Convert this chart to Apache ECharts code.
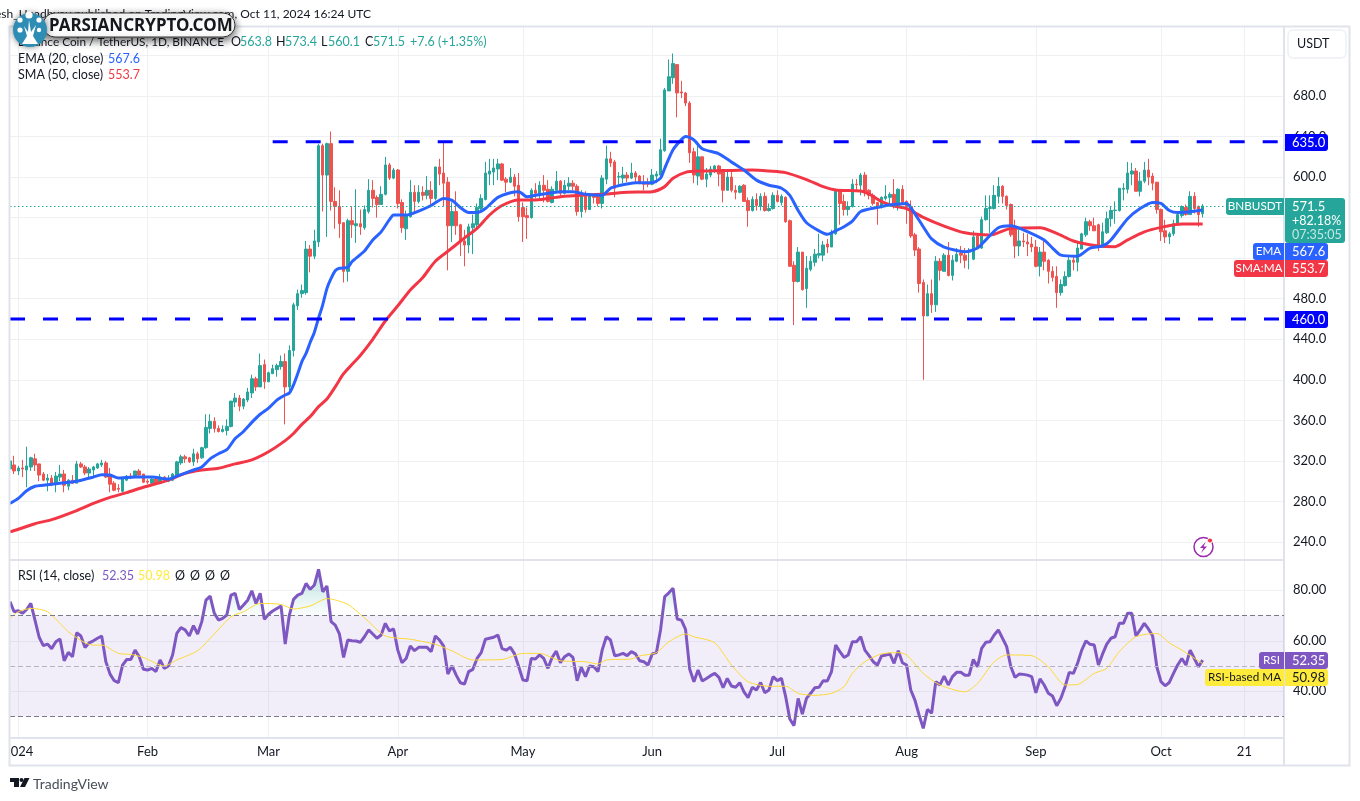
<!DOCTYPE html>
<html lang="en" style="height: 100%">

<head>
  <meta charset="utf-8">
  <script src="https://cdn.jsdelivr.net/npm/echarts@6/dist/echarts.min.js"></script>
</head>

<body style="height: 100%; margin: 0; background: #fff">
  <div id="container" style="width: 1360px; height: 801px;"></div>

  <script type="text/javascript">
    //day numbers count from 1 Jan 2024, first candle is 30 Dec
    const firstDay = -2;

    const opens = [
      312, 316, 310, 313, 311, 314, 322, 317, 307, 301,
      303, 297, 304, 307, 295, 301, 298, 317, 314, 308,
      311, 313, 316, 318, 305, 298, 293, 290, 301, 305,
      304, 310, 307, 300, 298, 302, 298, 304, 300, 301,
      305, 318, 324, 323, 319, 327, 323, 333, 352, 359,
      352, 349, 350, 354, 378, 382, 374, 380, 387, 401,
      393, 415, 398, 406, 410, 413, 418, 393, 429, 473,
      485, 486, 529, 522, 536, 631, 602, 633, 576, 571,
      555, 507, 557, 552, 554, 550, 566, 587, 580, 573,
      583, 612, 599, 607, 575, 549, 561, 585, 576, 585,
      582, 587, 579, 610, 604, 595, 552, 566, 553, 537,
      533, 550, 553, 569, 578, 603, 605, 608, 613, 598,
      595, 600, 592, 570, 562, 560, 587, 584, 592, 588,
      575, 587, 596, 584, 591, 594, 591, 566, 581, 568,
      582, 582, 574, 598, 618, 615, 600, 599, 602, 599,
      604, 601, 594, 594, 593, 601, 602, 626, 685, 698,
      711, 684, 683, 673, 625, 601, 620, 598, 602, 607,
      611, 605, 587, 600, 587, 585, 592, 577, 567, 578,
      571, 581, 567, 569, 582, 575, 580, 557, 513, 497,
      526, 490, 509, 516, 523, 523, 534, 531, 544, 586,
      576, 568, 571, 593, 592, 602, 587, 582, 575, 570,
      579, 580, 583, 572, 588, 576, 571, 543, 529, 496,
      463, 485, 474, 517, 507, 523, 503, 517, 525, 523,
      526, 519, 542, 530, 558, 569, 569, 581, 591, 581,
      573, 548, 532, 537, 536, 534, 531, 512, 526, 518,
      507, 502, 486, 493, 502, 518, 516, 529, 543, 556,
      552, 553, 532, 545, 559, 567, 567, 588, 588, 603,
      606, 586, 596, 607, 601, 595, 568, 547, 541, 544,
      554, 562, 570, 563, 581, 571, 563.8
    ];
    const closes = [
      320, 310, 313, 312, 315, 323, 316, 306, 301, 303,
      297, 305, 307, 296, 301, 298, 317, 314, 308, 312,
      314, 317, 318, 304, 297, 291, 292, 302, 305, 304,
      310, 306, 299, 299, 302, 298, 304, 302, 302, 307,
      319, 324, 322, 319, 327, 322, 333, 353, 359, 352,
      349, 351, 354, 379, 382, 374, 381, 388, 401, 393,
      414, 398, 407, 411, 414, 418, 393, 429, 474, 485,
      488, 529, 522, 537, 631, 602, 633, 576, 571, 554,
      507, 557, 553, 554, 551, 568, 587, 579, 573, 583,
      612, 599, 607, 574, 550, 563, 585, 576, 585, 582,
      587, 579, 610, 603, 594, 552, 566, 552, 536, 533,
      551, 554, 570, 579, 604, 606, 609, 613, 597, 595,
      600, 591, 561, 561, 560, 587, 584, 592, 587, 576,
      588, 596, 584, 592, 594, 591, 566, 581, 568, 583,
      580, 574, 599, 618, 614, 589, 600.5, 602, 599, 604,
      600, 594, 593, 593, 602, 603, 627, 686, 699, 712,
      683, 683, 673, 624, 602, 620, 598, 603, 608, 611,
      603, 587, 600, 587, 585, 591, 576, 567, 578, 572,
      581, 567, 569, 582, 576, 581, 556, 512, 497, 526,
      489, 510, 517, 524, 524.5, 533, 531, 545, 586, 574,
      568, 571, 593, 592.5, 602, 586, 582, 574, 570, 580,
      581, 583, 572, 588, 575, 571, 542, 528, 495, 463,
      485, 474, 517, 508, 523, 503, 518, 524, 523, 518,
      527, 541, 530, 558, 569, 570, 582, 591, 581, 572,
      543, 532, 537, 536, 534, 531, 512, 526, 517, 507,
      501, 486, 494, 502, 518, 516, 530, 544, 556, 552,
      547, 531, 546, 559, 567, 567.5, 589, 589, 604, 606,
      586, 596, 607, 600, 594, 568, 546, 541, 544, 554,
      563, 571, 563, 581, 569, 563, 571.5
    ];
    const highs = [
      322, 325, 315, 321, 334, 324, 327, 317, 309, 307,
      306, 309, 316, 311, 302, 306, 320, 319, 316, 314,
      315, 318, 321, 320, 313, 300, 297, 304, 306, 308,
      310, 312, 307, 302, 304, 304, 307, 305, 306, 308,
      320, 326, 326, 324, 332, 329, 334, 366, 366, 363,
      355, 355, 361, 379, 387, 385, 382, 392, 405, 403,
      426, 420, 408, 415, 416, 424, 426, 434, 476, 489,
      494, 537, 533, 548, 633, 633, 634, 645, 590, 587,
      555, 559, 571, 588, 568, 572, 598, 597, 582, 591,
      620, 614, 609, 608, 578, 567, 597, 592, 592, 591,
      601, 596, 610, 618, 634, 600, 575, 586, 554, 548,
      554, 563, 574, 583, 615, 618, 618, 618, 614, 600,
      609, 603, 604, 575, 570, 589, 594, 596, 602, 597,
      591, 606, 597, 597, 600, 597, 593, 587, 586, 584,
      583, 582, 602, 631, 625, 617, 605, 610, 605, 614,
      606, 602, 602, 599, 608, 606, 638, 688, 716, 722,
      711, 695, 684, 675, 629, 635, 620, 609, 611, 612,
      612, 606, 606, 607, 592, 592, 593, 580, 581, 584,
      584, 585, 574, 585, 587, 583, 581, 558, 517, 531,
      526, 522, 522, 529, 544, 537, 539, 548, 587, 587,
      583, 576, 598, 598, 604, 605, 588, 584, 575, 581,
      592, 585, 598, 589, 592, 577, 577, 545, 531, 499,
      494, 499, 522, 520, 525, 536, 523, 530, 532, 530,
      530, 547, 543, 561, 582, 582, 592, 600, 592, 582,
      574, 558, 548, 545, 544, 541, 538, 531, 538, 519,
      512, 512, 499, 507, 523, 523, 535, 545, 560, 558,
      560, 554, 555, 566, 571, 576, 589, 594, 615, 614,
      609, 605, 615, 618, 604, 595, 569, 558, 546, 558,
      564, 572, 573, 586, 585, 572, 573.4
    ];
    const lows = [
      311, 307, 306, 304, 294, 310, 310, 300, 300, 290,
      295, 289, 300, 289, 291, 298, 298, 313, 306, 304,
      305, 312, 314, 303, 289, 290, 289, 289, 300, 302,
      303, 305, 298, 297, 297, 297, 297, 300, 299, 300,
      303, 316, 318, 318, 315, 318, 322, 332, 347, 348,
      348, 348, 345, 353, 373, 369, 371, 378, 382, 389,
      393, 391, 398, 406, 403, 410, 356, 387, 423, 469,
      481, 484, 506, 519, 531, 566, 541, 567, 549, 540,
      496, 497, 540, 535, 543, 548, 564, 570, 560, 573,
      582, 597, 598, 569, 545, 538, 560, 564, 574, 577,
      578, 570, 577, 592, 571, 508, 536, 543, 522, 512,
      525, 524, 549, 567, 577, 592, 592, 597, 596, 585,
      594, 581, 556, 536, 539, 559, 579, 579, 575, 575,
      574, 586, 581, 583, 587, 587, 562, 560, 565, 568,
      574, 571, 569, 593, 610, 580, 590, 594, 595, 598,
      594, 593, 587, 590, 592, 594, 601, 625, 685, 692,
      659, 678, 670, 614, 594, 592, 597, 590, 600, 604,
      591, 575, 587, 585, 578, 584, 576, 551, 566, 567,
      567, 566, 566, 568, 575, 572, 555, 512, 454, 496,
      488, 471, 507, 512, 520, 517, 525, 531, 543, 553,
      562, 562, 570, 587, 582, 581, 578, 572, 553, 569,
      577, 574, 569, 567, 574, 554, 540, 522, 486, 400,
      463, 466, 467, 498, 507, 502, 498, 516, 515, 510,
      509, 518, 530, 529, 557, 545, 568, 574, 574, 568,
      541, 520, 522, 531, 522, 526, 511, 502, 508, 495,
      497, 471, 483, 492, 501, 508, 507, 529, 541, 547,
      547, 527, 531, 544, 551, 554, 566, 577, 584, 592,
      586, 581, 594, 592, 587, 564, 537, 535, 534, 542,
      553, 560, 562, 563, 564, 551, 560.1
    ];

    const emaDays = [-2, 0, 2, 4, 6, 10, 14, 18, 20, 22, 24, 28, 32, 36, 38, 42, 44, 46, 48, 50, 52, 54, 56, 58, 60, 62, 64, 65, 66, 67, 68, 69, 70, 71, 72, 73, 74, 75, 76, 77, 79, 80, 83, 85, 87, 89, 90, 93, 96, 99, 102, 104, 106, 108, 110, 112, 115, 118, 120, 122, 124, 128, 130, 133, 136, 140, 142, 144, 148, 152, 154, 155, 157, 159, 160, 162, 164, 168, 171, 174, 177, 180, 183, 185, 187, 189, 192, 194, 196, 198, 200, 202, 206, 209, 213, 214, 217, 219, 222, 227, 230, 232, 235, 238, 241, 246, 248, 250, 254, 257, 260, 262, 266, 269, 272, 274, 276, 278, 284];
    const emaValues = [278, 283, 290.6, 295, 296, 298, 300, 304, 306.4, 306, 303, 304, 304, 302, 305, 311, 314, 322, 327, 331, 342, 349, 358, 366, 372, 380, 385, 387, 395, 406, 418, 426, 437, 447, 461, 474, 490, 500, 507.6, 510, 511, 516.5, 527, 538, 546, 558, 562.6, 562.6, 566.5, 572, 579, 577, 570, 565, 565, 569, 580, 584.6, 585.6, 580.6, 582, 584.6, 585.6, 585.6, 583, 582, 589, 591.6, 594.5, 594.5, 599, 608.7, 627, 637, 640, 636.6, 628, 623, 615, 607, 597, 592, 589, 582, 567, 555, 547, 543.6, 547, 551, 556.5, 566, 570, 572.5, 574, 570, 551, 539, 531, 526.4, 530, 538, 550, 552, 548, 538, 530, 523, 522, 530, 532, 538, 559, 569, 575, 574, 567, 565, 567.6];
    const smaDays = [-2, 0, 4, 8, 14, 18, 22, 26, 30, 36, 40, 44, 48, 52, 56, 60, 64, 66, 68, 70, 72, 74, 76, 78, 80, 82, 85, 88, 91, 94, 97, 100, 104, 107, 110, 113, 116, 120, 124, 130, 136, 141, 146, 152, 155, 157, 160, 164, 169, 176, 180, 184, 189, 193, 196, 202, 204, 207, 210, 213, 217, 222, 227, 233, 238, 245, 249, 253, 259, 263, 266, 270, 274, 279, 284];
    const smaValues = [250, 252.5, 258, 262, 271, 278, 284, 288.7, 294, 301, 307.7, 311, 312.7, 317, 321, 329, 340, 347, 356, 363.7, 373.5, 381, 393, 406, 415, 424, 440, 458, 473, 488.6, 501, 517, 530, 540, 549.4, 562.6, 572, 577.4, 577.4, 580.7, 582.4, 583.3, 585, 585.6, 590.6, 598.8, 604.7, 606, 606.4, 607, 606, 604.4, 597.5, 590.6, 587.3, 586.3, 583.3, 575.8, 571.5, 569, 560.3, 551.7, 545, 542.9, 549.4, 550, 544.5, 537, 532, 531.4, 538, 546, 550.4, 553.7, 553.7];

    const rsiValues = [
      75.5, 71.5, 71.9, 70.9, 72.4, 74.8, 68.2, 61.4, 58.1, 58.7,
      56.9, 59.6, 60.7, 52.1, 55.4, 53.7, 63.2, 61.9, 57.3, 59.2,
      60, 61, 61.9, 51.7, 46.8, 44.2, 43.4, 50.4, 52.6, 52.6,
      56.3, 53.7, 48.7, 48.4, 49.1, 47.8, 52.4, 49.1, 50, 54.4,
      62.9, 65.2, 64.3, 61.9, 66, 62.7, 67.6, 76.1, 77.7, 70.9,
      68.2, 68.9, 70.2, 78.1, 78.8, 72.4, 74.2, 76.1, 79.8, 74.8,
      78.8, 68.5, 70.5, 71.8, 72.8, 73.8, 58.7, 70.2, 76.4, 78.1,
      78.8, 82.7, 80.4, 82.1, 88.3, 79.4, 81.7, 67.6, 66.2, 62.7,
      53.4, 60.3, 60, 59.9, 59.4, 61.6, 64.3, 62.7, 61, 62.3,
      66.9, 63.9, 64.7, 56.3, 51.3, 53, 57.9, 56.1, 57.4, 57.4,
      57.4, 55.7, 61.9, 60.3, 57.9, 46.8,
      50.1, 46.4, 43.4, 42.9, 47.8, 48.7, 53, 55.3, 60.6, 61,
      61.4, 62.3, 56.9, 56.3, 57.4, 54.8, 49.7, 44.5, 44.2, 53,
      52.8, 54.4, 53, 49.1, 53.4, 55.9, 51.3, 53.7, 54.8, 53.4,
      44.2, 49.5, 45.8, 50, 49.7, 47.8, 56.3, 61.6, 60.3, 54.1,
      54.4, 55, 54.1, 55.7, 54.8, 52.1, 51.7, 50.4, 54.8, 55.3,
      64.3, 77.5, 79, 80.8, 68.6, 68.2, 64.5, 48.7, 43.8, 48.4,
      44.1, 45.1, 46.2, 47.1, 45.5, 41.4, 45.1, 42.1, 41.6, 43.4,
      39.8, 37.5, 41.6, 40.5, 43.5, 39.4, 40.5, 45.8, 44.2, 45.1,
      37.9, 29, 26.4, 37.2, 31, 37.2, 39.2, 41.4, 41.6, 44.2,
      44.1, 47.8, 58.3, 55.7, 53.4, 54.4, 59.6, 59.6, 61.6, 56.3,
      54.1, 51.7, 50.4, 54, 54.4, 54.8, 51.1, 56.1,
      51.3, 50.4, 40.5, 36.5, 30.6, 25.3, 32.8, 31.3, 43.8, 42.5,
      46, 42.5, 45.8, 47.5, 47.5, 46.4, 46.4, 52.6, 49.7, 57,
      59.4, 59.6, 62.3, 64.3, 61, 57.7, 49.7, 45.5, 46.8, 46.7,
      46.4, 45.8, 39.4, 44.9, 42.5, 39.2, 38.1, 34.3, 37.2, 41.8,
      47.5, 47.1, 51.1, 56.3, 60, 58.6, 58.3, 50.4, 54.8, 58.7,
      61, 61.6, 66.9, 66.9, 70.9, 70.9, 61.9, 64.3, 66.9, 64.7,
      61.9, 49.7, 43.8, 42.2, 43.5, 47.1, 50.4, 53, 50.4, 56.3,
      53, 49.7, 52.35
    ];
    const rsiMaDays = [-2, 0, 3, 7, 12, 16, 18, 20, 24, 27, 30, 35, 38, 43, 47, 51, 54, 58, 63, 66, 70, 74, 79, 84, 88, 94, 100, 104, 109, 116, 121, 125, 130, 136, 139, 141, 147, 149, 153, 156, 160, 162, 167, 171, 175, 180, 184, 187, 191, 195, 198, 200, 203, 207, 211, 213, 217, 221, 227, 230, 234, 237, 243, 247, 251, 254, 258, 261, 264, 268, 273, 276, 279, 284];
    const rsiMaValues = [68.9, 71.5, 72.8, 71.5, 63.6, 59.2, 58.3, 58.3, 55, 54.6, 53.4, 50, 52.4, 56.1, 62.7, 69.5, 71.5, 74.8, 74.4, 72.6, 73.8, 76.7, 74.4, 67.6, 61.9, 60.6, 58.6, 56, 52.4, 52.6, 55, 55, 52.1, 51.7, 50.8, 52.4, 52.8, 54, 55.3, 59.6, 62.7, 61.6, 59.2, 50.4, 43.8, 42, 42, 39.2, 38.4, 39.2, 41.8, 47.1, 51.7, 54.8, 55.3, 54.4, 47.1, 42.5, 39.8, 43.1, 51.7, 54.4, 54.1, 49.7, 42.5, 42.7, 47.1, 49.1, 55.7, 61.6, 62.9, 59.2, 56.3, 50.98];

    //axis ticks
    const monthDays = [0, 31, 60, 91, 121, 152, 182, 213, 244, 274, 294];
    const monthLabels = ['2024', 'Feb', 'Mar', 'Apr', 'May', 'Jun', 'Jul', 'Aug', 'Sep', 'Oct', '21'];
    const priceGrid = [240, 280, 320, 360, 400, 440, 480, 520, 560, 600, 640, 680, 720];
    const priceLabels = [240, 280, 320, 360, 400, 440, 480, 600, 640, 680];
    const rsiTicks = [40, 60, 80];

    //horizontal levels drawn on the chart
    const resistance = 635;
    const resistanceFrom = 61;
    const support = 460;
    const lastClose = 571.5;
    const rsiBands = [70, 50, 30];

    const font = 'Lato, "Noto Sans", sans-serif';
    const textColor = '#131722';
    const gridColor = '#eff0f4';
    const frameColor = '#e0e3eb';
    const upColor = '#26a69a';
    const downColor = '#ef5350';
    const xMin = -1.99;
    const xMax = 303.5;

    const dom = document.getElementById('container');
    const myChart = echarts.init(dom, null, { renderer: 'canvas' });

    const pairs = (days, values) => days.map((d, i) => [d, values[i]]);
    const allDays = opens.map((_, i) => i + firstDay);

    function xAxis(gridIndex, withLabels) {
      return {
        type: 'value',
        gridIndex: gridIndex,
        min: xMin,
        max: xMax,
        axisLine: { show: true, onZero: false, lineStyle: { color: frameColor, width: 2 } },
        axisTick: { show: false, customValues: monthDays },
        splitLine: { show: true, lineStyle: { color: gridColor } },
        axisLabel: {
          show: withLabels,
          customValues: monthDays,
          formatter: v => monthLabels[monthDays.indexOf(v)],
          color: textColor,
          fontFamily: font,
          fontSize: 13,
          margin: 7
        }
      };
    }

    function yAxis(gridIndex, min, max, grid, labels, digits) {
      return {
        type: 'value',
        gridIndex: gridIndex,
        position: 'right',
        min: min,
        max: max,
        axisLine: { show: true, onZero: false, lineStyle: { color: frameColor, width: 2 } },
        axisTick: { show: false, customValues: grid },
        splitLine: { show: true, lineStyle: { color: gridColor } },
        axisLabel: {
          customValues: labels,
          formatter: v => v.toFixed(digits),
          color: textColor,
          fontFamily: font,
          fontSize: 13,
          padding: [2, 0, 0, 0],
          margin: 9
        }
      };
    }

    //text and badges outside the marks
    const T = (x, y, text, fill, extra) => ({
      type: 'text', z: 120, x: x, y: y,
      style: Object.assign({ text: text, fill: fill, font: '12.5px ' + font, verticalAlign: 'middle' }, extra || {})
    });
    const box = (x, y, w, h, fill, r) => ({
      type: 'rect', z: 110, shape: { x: x, y: y, width: w, height: h, r: r }, style: { fill: fill }
    });
    function badge(left, right, y0, y1, fill, name, value, nameFill, valueFill) {
      const list = [];
      if (name) {
        list.push(box(left, y0, 1284 - left, y1 - y0, fill, [3, 0, 0, 3]));
        list.push(T((left + 1284) / 2, (y0 + y1) / 2, name, nameFill || '#fff', { textAlign: 'center', font: '11.7px ' + font }));
      }
      list.push(box(1285, y0, right - 1285, y1 - y0, fill, [0, 3, 3, 0]));
      list.push(T(1292, (y0 + y1) / 2, value, valueFill || '#fff', { font: '13px ' + font }));
      return list;
    }

    const graphics = [
      //frame
      { type: 'rect', z: 105, shape: { x: 0, y: 0, width: 9, height: 801 }, style: { fill: '#fff' } },
      { type: 'rect', z: 106, shape: { x: 9.5, y: 26.5, width: 1340, height: 739 }, style: { fill: 'none', stroke: frameColor, lineWidth: 2 } },
      { type: 'line', z: 106, shape: { x1: 1284, y1: 738, x2: 1284, y2: 765 }, style: { stroke: frameColor, lineWidth: 2 } },
      //header
      T(371, 14, 'Rakesh_Upadhyay published on TradingView.com, Oct 11, 2024 16:24 UTC', textColor, { textAlign: 'right', font: '12px ' + font }),
      T(18, 42, 'Binance Coin / TetherUS, 1D, BINANCE', textColor, { font: '11.8px ' + font }),
      T(231, 42, 'O', textColor),
      T(240, 42, '563.8', upColor),
      T(276, 42, 'H', textColor),
      T(285, 42, '573.4', upColor),
      T(321, 42, 'L', textColor),
      T(328, 42, '560.1', upColor),
      T(365, 42, 'C', textColor),
      T(373, 42, '571.5', upColor),
      T(410, 42, '+7.6 (+1.35%)', upColor),
      T(18, 59, 'EMA (20, close)', textColor),
      T(108, 59, '567.6', '#2962ff'),
      T(18, 75, 'SMA (50, close)', textColor),
      T(108, 75, '553.7', '#f23645'),
      T(18, 576, 'RSI (14, close)', textColor),
      T(102, 576, '52.35', '#7e57c2'),
      T(138, 576, '50.98', '#ffeb3b'),
      T(175, 576, '\u00d8', textColor),
      T(190, 576, '\u00d8', textColor),
      T(205, 576, '\u00d8', textColor),
      T(220, 576, '\u00d8', textColor),
      //currency button
      { type: 'rect', z: 110, shape: { x: 1288, y: 30, width: 58, height: 28, r: 5 }, style: { fill: '#fff', stroke: '#eef0f5', lineWidth: 1.5 } },
      T(1297, 44, 'USDT', textColor, { font: '12.5px ' + font }),
      //branded pill
      { type: 'rect', z: 130, shape: { x: 43, y: 13, width: 192, height: 24, r: 12 },
        style: { fill: '#fff', stroke: '#333', lineWidth: 1, shadowBlur: 9, shadowColor: 'rgba(0,0,0,0.65)', shadowOffsetY: 3 } },
      { type: 'text', z: 131, x: 49, y: 26, style: { text: 'PARSIANCRYPTO.COM', fill: '#16181d', font: 'bold 17px "Noto Sans", sans-serif', verticalAlign: 'middle' } },
      { type: 'circle', z: 132, shape: { cx: 30, cy: 30, r: 17 }, style: { fill: '#2e8db5', shadowBlur: 6, shadowColor: 'rgba(0,0,0,0.5)' } },
      { type: 'circle', z: 133, shape: { cx: 29, cy: 15, r: 3.6 }, style: { fill: '#fff' } },
      { type: 'circle', z: 133, shape: { cx: 39, cy: 20, r: 2.6 }, style: { fill: '#fff' } },
      { type: 'circle', z: 133, shape: { cx: 20, cy: 20, r: 2.6 }, style: { fill: '#fff' } },
      { type: 'circle', z: 133, shape: { cx: 20, cy: 30, r: 2.6 }, style: { fill: '#fff' } },
      { type: 'circle', z: 133, shape: { cx: 39, cy: 30, r: 2.2 }, style: { fill: '#fff' } },
      { type: 'polygon', z: 133, shape: { points: [[22, 44], [27, 36], [24, 26], [28, 32], [29, 20], [31, 32], [36, 25], [33, 36], [38, 44]] }, style: { fill: '#fff' } },
      //lightning icon
      { type: 'circle', z: 120, shape: { cx: 1203.5, cy: 547, r: 9.5 }, style: { fill: '#fff', stroke: '#9c27b0', lineWidth: 1.5 } },
      { type: 'polygon', z: 121, shape: { points: [[1206, 541.5], [1200, 548], [1203.5, 548], [1201, 553], [1207, 546.5], [1203.5, 546.5]] }, style: { fill: '#9c27b0' } },
      { type: 'circle', z: 122, shape: { cx: 1210, cy: 540.5, r: 2.6 }, style: { fill: '#f23645', stroke: '#fff', lineWidth: 1 } },
      //TradingView mark
      { type: 'polygon', z: 120, shape: { points: [[10, 778], [19, 778], [19, 787], [14, 787], [14, 782], [10, 782]] }, style: { fill: '#131722' } },
      { type: 'circle', z: 120, shape: { cx: 21.5, cy: 780, r: 2 }, style: { fill: '#131722' } },
      { type: 'polygon', z: 120, shape: { points: [[24.5, 778], [29.5, 778], [25, 787], [20, 787]] }, style: { fill: '#131722' } },
      T(33, 784, 'TradingView', '#4a4e5a', { font: '14px ' + font })
    ].concat(
      badge(0, 1328, 134, 151, '#0000ff', null, '635.0'),
      badge(0, 1328, 311, 328, '#0000ff', null, '460.0'),
      badge(1253, 1328, 243, 260, '#2962ff', 'EMA', '567.6'),
      badge(1234, 1328, 260, 277, '#f23645', 'SMA:MA', '553.7'),
      badge(1259, 1328, 652, 669, '#7e57c2', 'RSI', '52.35'),
      badge(1205, 1328, 669, 686, '#ffeb3b', 'RSI-based MA', '50.98', textColor, textColor),
      [
        box(1226, 198, 58, 17, upColor, [3, 0, 0, 3]),
        T(1255, 206.5, 'BNBUSDT', '#fff', { textAlign: 'center', font: '11.7px ' + font }),
        box(1285, 198, 60, 45, upColor, [0, 3, 3, 3]),
        T(1292, 206.5, '571.5', '#fff', { font: '13px ' + font }),
        T(1292, 220.5, '+82.18%', '#fff', { font: '12.5px ' + font }),
        T(1292, 235, '07:35:05', '#c6e8e4', { font: '12.5px ' + font })
      ]
    );

    const option = {
      animation: false,
      textStyle: { fontFamily: font },
      grid: [
        { left: 10, top: 27, width: 1274, height: 533 },
        { left: 10, top: 560, width: 1274, height: 178 }
      ],
      xAxis: [xAxis(0, false), xAxis(1, true)],
      yAxis: [
        yAxis(0, 222.2, 748.1, priceGrid, priceLabels, 1),
        yAxis(1, 21.5, 92, rsiTicks, rsiTicks, 2)
      ],
      series: [
        {
          name: 'BNBUSDT',
          type: 'candlestick',
          barWidth: 3,
          encode: { x: 0, y: [1, 2, 3, 4] },
          data: allDays.map((d, i) => [d, opens[i], closes[i], lows[i], highs[i]]),
          itemStyle: {
            color: upColor, color0: downColor,
            borderColor: upColor, borderColor0: downColor, borderWidth: 1
          },
          markLine: {
            silent: true,
            symbol: 'none',
            label: { show: false },
            lineStyle: { color: upColor, type: [1.5, 2.5], width: 1 },
            data: [{ yAxis: lastClose }]
          }
        },
        {
          name: 'SMA', type: 'line', showSymbol: false, smooth: 0.25,
          lineStyle: { color: '#f23645', width: 3 },
          data: pairs(smaDays, smaValues)
        },
        {
          name: 'EMA', type: 'line', showSymbol: false, smooth: 0.25,
          lineStyle: { color: '#2962ff', width: 3 },
          data: pairs(emaDays, emaValues)
        },
        {
          name: 'Resistance', type: 'line', showSymbol: false,
          lineStyle: { color: '#0000ff', width: 3, type: [15, 18] },
          data: [[resistanceFrom, resistance], [xMax, resistance]]
        },
        {
          name: 'Support', type: 'line', showSymbol: false,
          lineStyle: { color: '#0000ff', width: 3, type: [15, 18] },
          data: [[xMin, support], [xMax, support]]
        },
        {
          name: 'Overbought', type: 'line', xAxisIndex: 1, yAxisIndex: 1, showSymbol: false,
          lineStyle: { width: 0 },
          areaStyle: {
            origin: 70,
            color: new echarts.graphic.LinearGradient(0, 0, 0, 1, [
              { offset: 0, color: 'rgba(38,166,154,0.45)' },
              { offset: 1, color: 'rgba(38,166,154,0.02)' }
            ])
          },
          data: allDays.map((d, i) => [d, Math.max(rsiValues[i], 70)])
        },
        {
          name: 'RSI', type: 'line', xAxisIndex: 1, yAxisIndex: 1, showSymbol: false,
          lineStyle: { color: '#7e57c2', width: 3 },
          data: allDays.map((d, i) => [d, rsiValues[i]]),
          markArea: {
            silent: true,
            itemStyle: { color: 'rgba(126,87,194,0.1)' },
            data: [[{ yAxis: rsiBands[0] }, { yAxis: rsiBands[2] }]]
          },
          markLine: {
            silent: true,
            symbol: 'none',
            label: { show: false },
            lineStyle: { color: '#787b86', type: [5, 3], width: 1 },
            data: rsiBands.map(v => ({ yAxis: v, lineStyle: v === 50 ? { color: '#b2b5be' } : {} }))
          }
        },
        {
          name: 'RSI-based MA', type: 'line', xAxisIndex: 1, yAxisIndex: 1, showSymbol: false, smooth: 0.25,
          lineStyle: { color: '#fdd835', width: 1 },
          data: pairs(rsiMaDays, rsiMaValues)
        }
      ],
      graphic: { elements: graphics }
    };

    myChart.setOption(option);
  </script>
</body>

</html>
